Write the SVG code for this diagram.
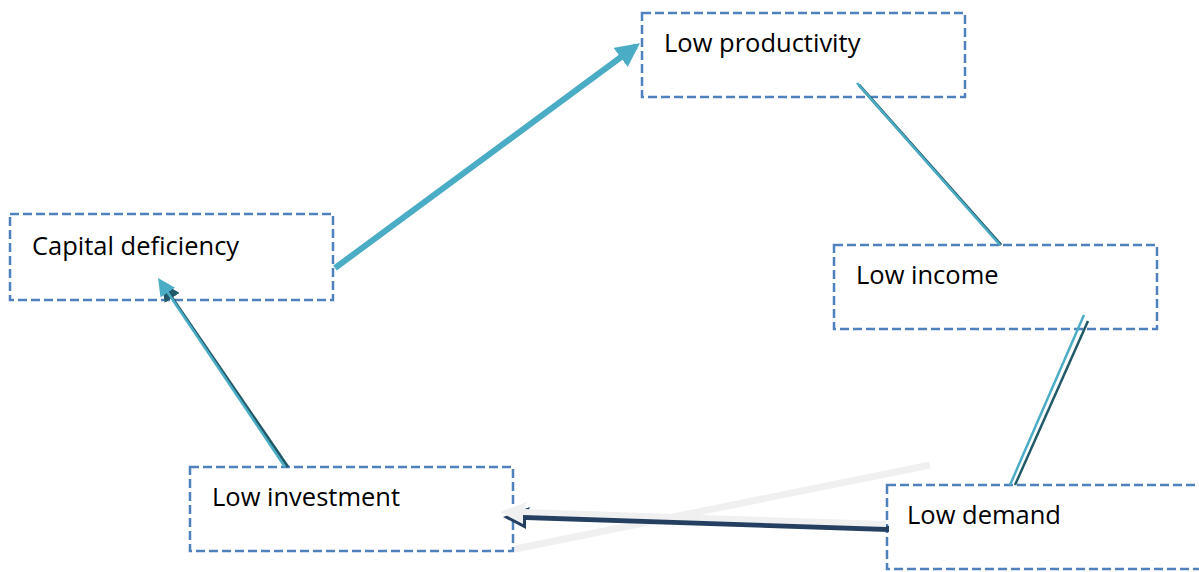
<svg xmlns="http://www.w3.org/2000/svg" width="1199" height="572" viewBox="0 0 1199 572">
<style>
.box{fill:#fff;stroke:#4F81BD;stroke-width:2.5;stroke-dasharray:9,4}
.lbl{font-family:"Open Sans","Liberation Sans",sans-serif;font-size:25.5px;fill:#000}
.teal{stroke:#4BACC6;fill:none}
.dark{stroke:#215968;fill:none}
.grey{stroke:#F0F0F0;fill:none}
</style>
<defs>
<marker id="tealHead" viewBox="0 0 10 10" refX="8" refY="5" markerWidth="4" markerHeight="4" markerUnits="strokeWidth" orient="auto"><path d="M0,0 L10,5 L0,10 z" fill="#4BACC6"/></marker>
<marker id="tealHeadSm" viewBox="0 0 10 10" refX="8" refY="5" markerWidth="7" markerHeight="7" markerUnits="strokeWidth" orient="auto"><path d="M0,0 L10,5 L0,10 z" fill="#4BACC6"/></marker>
<marker id="darkHeadSm" viewBox="0 0 10 10" refX="8" refY="5" markerWidth="6" markerHeight="6" markerUnits="strokeWidth" orient="auto"><path d="M0,0 L10,5 L0,10 z" fill="#215968"/></marker>
<path id="demandArrow" d="M886,521 L524,509 L527,502 L500,512 L523,524 L523,515 L886,527 Z"/>
</defs>
<rect width="1199" height="572" fill="#fff"/>
<g id="node-low-productivity"><rect class="box" x="642" y="13" width="323" height="84"/><text class="lbl" x="664" y="52">Low productivity</text></g>
<g id="node-capital-deficiency"><rect class="box" x="10" y="214" width="323" height="86"/><text class="lbl" x="32" y="255">Capital deficiency</text></g>
<g id="node-low-income"><rect class="box" x="834" y="245" width="323" height="84"/><text class="lbl" x="856" y="284">Low income</text></g>
<g id="node-low-investment"><rect class="box" x="190" y="467" width="323" height="84"/><text class="lbl" x="212" y="506">Low investment</text></g>
<g id="node-low-demand"><rect class="box" x="887" y="485" width="330" height="84"/><text class="lbl" x="907" y="524">Low demand</text></g>
<g id="connectors">
<line class="teal" x1="335" y1="268" x2="636" y2="46" stroke-width="6" marker-end="url(#tealHead)"/>
<line class="dark" x1="859" y1="85" x2="1001" y2="245" stroke-width="3"/>
<line class="teal" x1="857" y1="83" x2="1000" y2="245" stroke-width="2.5"/>
<line class="dark" x1="1088" y1="321" x2="1015" y2="485" stroke-width="2.5"/>
<line class="teal" x1="1084" y1="315" x2="1010" y2="485" stroke-width="2.5"/>
<line class="grey" x1="930" y1="465" x2="515" y2="549" stroke-width="7"/>
<use href="#demandArrow" fill="#243F60" transform="translate(3,5)"/>
<use href="#demandArrow" fill="#F0F0F0"/>
<line class="dark" x1="288" y1="467" x2="164" y2="286" stroke-width="3" marker-end="url(#darkHeadSm)"/>
<line class="teal" x1="285" y1="467" x2="160" y2="281" stroke-width="2.5" marker-end="url(#tealHeadSm)"/>
</g>
</svg>
